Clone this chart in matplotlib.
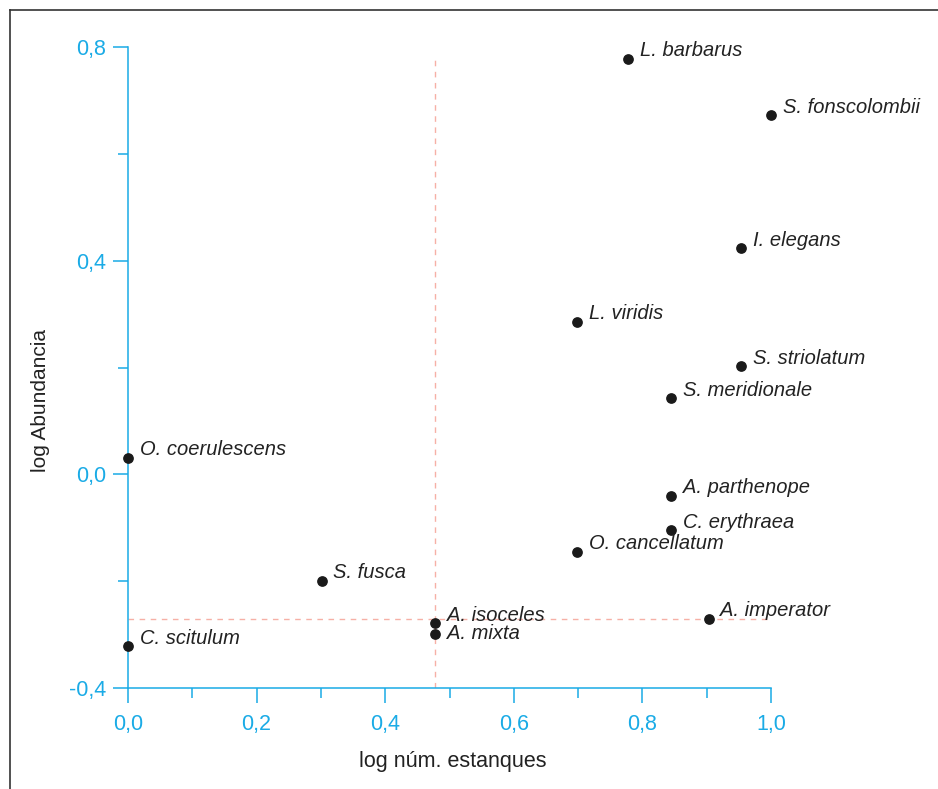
import matplotlib.pyplot as plt
from matplotlib.lines import Line2D

plt.rcParams['font.family'] = ['Liberation Sans', 'DejaVu Sans']

# species, log number of ponds, log abundance
species = ['L. barbarus', 'S. fonscolombii', 'I. elegans', 'L. viridis',
           'S. striolatum', 'S. meridionale', 'O. coerulescens', 'A. parthenope',
           'C. erythraea', 'O. cancellatum', 'S. fusca', 'A. isoceles',
           'A. mixta', 'A. imperator', 'C. scitulum']
log_ponds = [0.778, 1.0, 0.954, 0.699, 0.954, 0.845, 0.0, 0.845,
             0.845, 0.699, 0.301, 0.477, 0.477, 0.903, 0.0]
log_abund = [0.778, 0.672, 0.423, 0.285, 0.202, 0.142, 0.030, -0.041,
             -0.105, -0.146, -0.200, -0.279, -0.298, -0.271, -0.322]

# reference lines (means)
mean_x = 0.477
mean_y = -0.271

xticks = [0.0, 0.2, 0.4, 0.6, 0.8, 1.0]
xtick_labels = ['0,0', '0,2', '0,4', '0,6', '0,8', '1,0']
yticks = [-0.4, 0.0, 0.4, 0.8]
ytick_labels = ['-0,4', '0,0', '0,4', '0,8']

cyan = '#1aabe6'
dark = '#222222'
pink = '#f6b0a6'

fig = plt.figure(figsize=(9.38, 7.89), dpi=100)
ax = fig.add_axes([128/938, 101/789, 643/938, 641/789])

ax.set_xlim(0, 1.0)
ax.set_ylim(-0.4, 0.8)

ax.plot([mean_x, mean_x], [-0.4, 0.78], color=pink, lw=1, dashes=(4, 4), zorder=1)
ax.plot([0, 1.0], [mean_y, mean_y], color=pink, lw=1, dashes=(4, 4), zorder=1)

ax.scatter(log_ponds, log_abund, s=45, color='#1a1a1a', zorder=3, clip_on=False)

for name, x, y in zip(species, log_ponds, log_abund):
    dy = 0 if name == 'A. mixta' else 6
    ax.annotate(name, (x, y), xytext=(8.5, dy), textcoords='offset points',
                ha='left', va='center', fontsize=14.5, style='italic', color=dark)

for side in ['top', 'right']:
    ax.spines[side].set_visible(False)
for side in ['left', 'bottom']:
    ax.spines[side].set_color(cyan)
    ax.spines[side].set_linewidth(1.1)

ax.set_xticks(xticks)
ax.set_xticklabels(xtick_labels)
ax.set_xticks([0.1, 0.3, 0.5, 0.7, 0.9], minor=True)
ax.set_yticks(yticks)
ax.set_yticklabels(ytick_labels)
ax.set_yticks([-0.2, 0.2, 0.6], minor=True)

ax.tick_params(which='major', length=11, width=1.1, color=cyan, labelcolor=cyan,
               labelsize=15.5, pad=5)
ax.tick_params(which='minor', length=7.5, width=1.1, color=cyan)
ax.tick_params(axis='x', which='major', pad=8)

fig.text(40/938, 1 - 400/789, 'log Abundancia', rotation=90, ha='center', va='center',
         fontsize=15, color=dark)
fig.text(453/938, 1 - 762/789, 'log núm. estanques', ha='center', va='center',
         fontsize=15.5, color=dark)

# frame around the figure (top and left edges)
fig.add_artist(Line2D([10/938, 10/938], [0, 1 - 10/789], transform=fig.transFigure,
                      color='#333333', lw=1.2))
fig.add_artist(Line2D([10/938, 1], [1 - 10/789, 1 - 10/789], transform=fig.transFigure,
                      color='#333333', lw=1.2))

fig.savefig('out.png', dpi=100)
